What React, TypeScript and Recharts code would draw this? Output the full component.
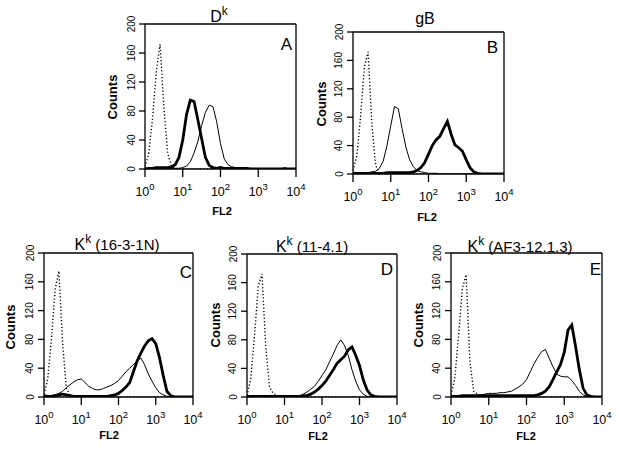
import React from 'react';
import { LineChart, Line, XAxis, YAxis, ReferenceLine } from 'recharts';

// fluorescence channel, as log10 of FL2 (10^0 .. 10^4)
const LOG_FL2 = [
    0, 0.1, 0.2, 0.3, 0.4, 0.5, 0.6, 0.7, 0.8, 0.9,
    1, 1.1, 1.2, 1.3, 1.4, 1.5, 1.6, 1.7, 1.8, 1.9,
    2, 2.1, 2.2, 2.3, 2.4, 2.5, 2.6, 2.7, 2.8, 2.9,
    3, 3.1, 3.2, 3.3, 3.4, 3.5, 3.6, 3.7, 3.8, 3.9,
    4,
];
const DECADES = [0, 1, 2, 3, 4];
const COUNT_TICKS = [0, 40, 80, 120, 160, 200];

// panel A - Dk
const A_DOTTED = [3, 22, 70, 135, 172, 85, 22, 4, 1, 0, 0, 0, 0, 0, 0, 0, 0, 0, 0, 0, 0, 0, 0, 0, 0, 0, 0, 0, 0, 0, 0, 0, 0, 0, 0, 0, 0, 0, 0, 0, 0];
const A_THIN = [0, 0, 0, 0, 1, 1, 1, 1, 1, 1, 2, 4, 10, 22, 38, 60, 78, 88, 86, 65, 35, 14, 6, 3, 2, 1, 1, 1, 1, 0, 0, 0, 0, 0, 0, 0, 0, 2, 0, 0, 0];
const A_THICK = [0, 1, 1, 2, 2, 2, 2, 3, 6, 16, 40, 75, 95, 93, 68, 42, 16, 5, 2, 1, 2, 1, 1, 1, 1, 1, 1, 1, 0, 0, 0, 0, 0, 0, 0, 0, 0, 0, 0, 0, 0];

// panel B - gB
const B_DOTTED = [5, 25, 80, 150, 172, 70, 12, 2, 0, 0, 0, 0, 0, 0, 0, 0, 0, 0, 0, 0, 0, 0, 0, 0, 0, 0, 0, 0, 0, 0, 0, 0, 0, 0, 0, 0, 0, 0, 0, 0, 0];
const B_THIN = [0, 0, 1, 2, 2, 3, 4, 8, 18, 40, 68, 95, 92, 64, 38, 20, 10, 5, 3, 2, 1, 1, 1, 0, 0, 0, 0, 0, 0, 0, 0, 0, 0, 0, 0, 0, 0, 0, 0, 0, 0];
const B_THICK = [1, 1, 1, 1, 1, 1, 1, 1, 1, 2, 2, 2, 2, 2, 2, 2, 3, 5, 9, 16, 28, 40, 48, 53, 64, 74, 56, 41, 37, 32, 20, 9, 3, 1, 0, 0, 0, 0, 0, 0, 0];

// panel C - Kk (16-3-1N)
const C_DOTTED = [4, 25, 80, 150, 175, 75, 12, 3, 1, 0, 0, 0, 0, 0, 0, 0, 0, 0, 0, 0, 0, 0, 0, 0, 0, 0, 0, 0, 0, 0, 0, 0, 0, 0, 0, 0, 0, 0, 0, 0, 0];
const C_THIN = [1, 1, 2, 3, 5, 8, 13, 17, 21, 24, 25, 20, 15, 12, 10, 10, 12, 14, 16, 19, 23, 29, 35, 40, 45, 50, 54, 45, 32, 22, 13, 6, 3, 1, 0, 0, 0, 0, 0, 0, 0];
const C_THICK = [2, 1, 1, 2, 3, 4, 3, 2, 1, 1, 1, 1, 1, 1, 1, 1, 1, 1, 2, 3, 5, 9, 14, 20, 35, 50, 61, 71, 78, 81, 74, 55, 30, 8, 2, 0, 0, 0, 0, 0, 0];

// panel D - Kk (11-4.1)
const D_DOTTED = [2, 25, 85, 155, 172, 70, 14, 5, 2, 1, 0, 0, 0, 0, 0, 0, 0, 0, 0, 0, 0, 0, 0, 0, 0, 0, 0, 0, 0, 0, 0, 0, 0, 0, 0, 0, 0, 0, 0, 0, 0];
const D_THIN = [0, 0, 0, 0, 0, 0, 1, 1, 1, 1, 1, 1, 1, 1, 1, 4, 7, 11, 15, 22, 30, 38, 49, 60, 72, 80, 72, 58, 38, 22, 10, 4, 1, 0, 0, 0, 0, 0, 0, 0, 0];
const D_THICK = [1, 1, 1, 1, 1, 1, 1, 1, 1, 1, 1, 1, 1, 1, 1, 2, 2, 4, 7, 11, 16, 22, 30, 38, 47, 52, 57, 66, 70, 58, 44, 24, 10, 3, 1, 0, 0, 0, 0, 0, 0];

// panel E - Kk (AF3-12.1.3)
const E_DOTTED = [3, 25, 85, 150, 170, 50, 8, 4, 2, 1, 1, 0, 0, 0, 0, 0, 0, 0, 0, 0, 0, 0, 0, 0, 0, 0, 0, 0, 0, 0, 0, 0, 0, 0, 0, 0, 0, 0, 0, 0, 0];
const E_THIN = [0, 0, 0, 0, 0, 1, 1, 2, 3, 4, 5, 5, 5, 6, 6, 7, 8, 11, 14, 18, 24, 35, 46, 55, 63, 66, 54, 42, 32, 29, 28, 28, 23, 16, 8, 3, 1, 0, 0, 0, 0];
const E_THICK = [1, 1, 1, 2, 2, 2, 2, 2, 2, 2, 2, 2, 2, 2, 2, 2, 2, 2, 2, 2, 2, 2, 2, 3, 5, 8, 14, 24, 35, 45, 62, 93, 100, 70, 38, 12, 3, 1, 0, 0, 0];

const FONT = "'Liberation Sans', Arial, Helvetica, sans-serif";

const toRows = (dotted: number[], thin: number[], thick: number[]) =>
    LOG_FL2.map((x, i) => ({ x, dotted: dotted[i], thin: thin[i], thick: thick[i] }));

const XTick = (props: any) => {
    const { x, y, payload } = props;
    return (
        <text x={x} y={y + 17} textAnchor="middle" fontSize={12.5} fontFamily={FONT} fill="#000">
            10<tspan dy={-6} fontSize={9.5}>{payload.value}</tspan>
        </text>
    );
};

const YTick = (props: any) => {
    const { x, y, payload } = props;
    const bx = x - 2.5;
    return (
        <text
            x={bx}
            y={y}
            transform={`rotate(-90 ${bx} ${y})`}
            textAnchor="middle"
            fontSize={10}
            fontFamily={FONT}
            fill="#000"
        >
            {payload.value}
        </text>
    );
};

// plot boxes, in page pixels
const PANELS = [
    { id: 'A', box: { left: 145, top: 24, width: 151, height: 145 }, rows: toRows(A_DOTTED, A_THIN, A_THICK) },
    { id: 'B', box: { left: 353, top: 32, width: 151, height: 142 }, rows: toRows(B_DOTTED, B_THIN, B_THICK) },
    { id: 'C', box: { left: 44, top: 253, width: 149, height: 144 }, rows: toRows(C_DOTTED, C_THIN, C_THICK) },
    { id: 'D', box: { left: 247, top: 254, width: 150, height: 143 }, rows: toRows(D_DOTTED, D_THIN, D_THICK) },
    { id: 'E', box: { left: 451, top: 253, width: 151, height: 144 }, rows: toRows(E_DOTTED, E_THIN, E_THICK) },
];

const ML = 50;
const MR = 10;
const MT = 10;
const MB = 40;

const Histogram = ({ box, rows }: { box: any; rows: any[] }) => (
    <div style={{ position: 'absolute', left: box.left - ML, top: box.top - MT }}>
        <LineChart
            width={box.width + ML + MR}
            height={box.height + MT + MB}
            data={rows}
            margin={{ top: MT, right: MR, bottom: 10, left: 10 }}
        >
            <XAxis
                dataKey="x"
                type="number"
                domain={[0, 4]}
                ticks={DECADES}
                interval={0}
                tick={XTick}
                tickSize={8}
                height={30}
                stroke="#000"
                strokeWidth={1.3}
                allowDataOverflow
            />
            <YAxis
                type="number"
                domain={[0, 200]}
                ticks={COUNT_TICKS}
                interval={0}
                tick={YTick}
                tickSize={6}
                width={40}
                stroke="#000"
                strokeWidth={1.3}
                allowDataOverflow
            />
            <ReferenceLine y={200} stroke="#000" strokeWidth={1.3} />
            <ReferenceLine x={4} stroke="#000" strokeWidth={1.3} />
            <Line type="linear" dataKey="dotted" stroke="#000" strokeWidth={1.4} strokeDasharray="1.2 2.2" dot={false} isAnimationActive={false} />
            <Line type="linear" dataKey="thin" stroke="#000" strokeWidth={1} dot={false} isAnimationActive={false} />
            <Line type="linear" dataKey="thick" stroke="#000" strokeWidth={2.8} dot={false} isAnimationActive={false} />
        </LineChart>
    </div>
);

// titles: centre x, baseline y
const TITLES = [
    { x: 219, y: 22, main: 'D', sup: 'k', rest: '' },
    { x: 425, y: 24, main: 'gB', sup: '', rest: '' },
    { x: 117, y: 250, main: 'K', sup: 'k', rest: ' (16-3-1N)' },
    { x: 312, y: 252, main: 'K', sup: 'k', rest: ' (11-4.1)' },
    { x: 520, y: 252, main: 'K', sup: 'k', rest: ' (AF3-12.1.3)' },
];
// panel letters: right x, baseline y
const LETTERS = [
    { t: 'A', x: 292, y: 50 },
    { t: 'B', x: 498, y: 53 },
    { t: 'C', x: 192, y: 278 },
    { t: 'D', x: 393, y: 275 },
    { t: 'E', x: 601, y: 275 },
];
const COUNTS_LABELS = [
    { x: 112, y: 97 },
    { x: 321, y: 104 },
    { x: 10, y: 327 },
    { x: 215, y: 325 },
    { x: 418, y: 325 },
];
const FL2_LABELS = [
    { x: 222, y: 215 },
    { x: 427, y: 221 },
    { x: 109, y: 439 },
    { x: 318, y: 440 },
    { x: 526, y: 440 },
];

export default function App() {
    return (
        <div style={{ position: 'absolute', left: 0, top: 0, width: 619, height: 453, background: '#fff' }}>
            {PANELS.map((p) => (
                <Histogram key={p.id} box={p.box} rows={p.rows} />
            ))}
            <svg
                width={619}
                height={453}
                style={{ position: 'absolute', left: 0, top: 0, pointerEvents: 'none' }}
                fontFamily={FONT}
            >
                {TITLES.map((t, i) => (
                    <text key={`t${i}`} x={t.x} y={t.y} textAnchor="middle" fontSize={16} fill="#000">
                        {t.main}
                        {t.sup && <tspan dy={-7} fontSize={12}>{t.sup}</tspan>}
                        {t.rest && <tspan dy={7} fontSize={15}>{t.rest}</tspan>}
                    </text>
                ))}
                {LETTERS.map((l) => (
                    <text key={l.t} x={l.x} y={l.y} textAnchor="end" fontSize={17} fill="#000">
                        {l.t}
                    </text>
                ))}
                {COUNTS_LABELS.map((c, i) => (
                    <text
                        key={`c${i}`}
                        x={c.x + 4.7}
                        y={c.y}
                        transform={`rotate(-90 ${c.x + 4.7} ${c.y})`}
                        textAnchor="middle"
                        fontSize={13}
                        fontWeight="bold"
                        fill="#000"
                    >
                        Counts
                    </text>
                ))}
                {FL2_LABELS.map((f, i) => (
                    <text key={`f${i}`} x={f.x} y={f.y} textAnchor="middle" fontSize={11} fontWeight="bold" fill="#000">
                        FL2
                    </text>
                ))}
            </svg>
        </div>
    );
}
